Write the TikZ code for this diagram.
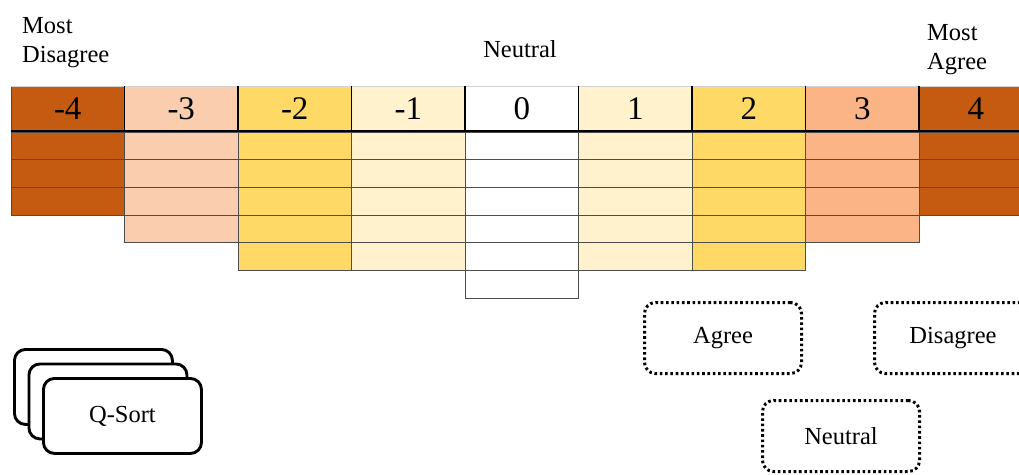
\documentclass[tikz,border=0pt]{standalone}
\usepackage{fontspec}
\setmainfont{Liberation Serif}
\definecolor{cfour}{HTML}{C55A11}
\definecolor{cthreen}{HTML}{FACDAE}
\definecolor{cthreep}{HTML}{FBB486}
\definecolor{ctwo}{HTML}{FFD966}
\definecolor{cone}{HTML}{FFF2CC}
\begin{document}
\begin{tikzpicture}[x=1pt,y=-1pt,
  cell/.style={draw=black!70, line width=0.7pt, minimum width=113.5pt, minimum height=27.67pt, inner sep=0pt, outer sep=0pt, anchor=north west},
  headcell/.style={cell, minimum height=45pt, font=\fontsize{33}{37}\selectfont},
  lbl/.style={font=\fontsize{24.5}{29}\selectfont, align=left, inner sep=0pt},
  card/.style={draw, line width=2.9pt, rounded corners=11pt, fill=white, minimum width=158pt, minimum height=75pt, inner sep=0pt, anchor=north west},
  dotbox/.style={draw, line width=3pt, dash pattern=on 2.6pt off 2.7pt, rounded corners=11pt, minimum width=157pt, minimum height=71pt, inner sep=0pt, anchor=north west, font=\fontsize{24.5}{29}\selectfont}
]
\clip (0,0) rectangle (1019,474);
\useasboundingbox (0,0) rectangle (1019,474);
\foreach \i/\lab/\col/\n in {0/-4/cfour/3,1/-3/cthreen/4,2/-2/ctwo/5,3/-1/cone/5,4/0/white/6,5/1/cone/5,6/2/ctwo/5,7/3/cthreep/4,8/4/cfour/3}{
  \pgfmathsetmacro\xx{11+113.5*\i}
  \node[headcell, fill=\col] (h\i) at (\xx,86) {\lab};
  \foreach \j in {1,...,\n}{
    \pgfmathsetmacro\yy{132+27.667*(\j-1)}
    \node[cell, fill=\col] (r\i-\j) at (\xx,\yy) {};
  }
}
\draw[gray!35, line width=1pt] (h0.north west) -- (h8.north east);
\foreach \i in {0,...,7}{
  \draw[black, line width=1.1pt] (h\i.north east) -- (h\i.south east);
}
\draw[black, line width=1.6pt] (h0.south west) -- (h8.south east);

\node[lbl, anchor=north west] (mdis) at (22,17) {Most\\Disagree};
\node[lbl, anchor=base] (neut) at (520,57) {Neutral};
\node[lbl, anchor=north west] (magr) at (927,24) {Most\\Agree};

\node[card] (q1) at (13,348) {};
\node[card] (q2) at (27.5,362.5) {};
\node[card, font=\fontsize{24.5}{29}\selectfont] (q3) at (42,377) {Q-Sort};

\node[dotbox] (agree) at (643,301) {Agree};
\node[dotbox] (disagree) at (873,301) {Disagree};
\node[dotbox] (neutral) at (761,399) {Neutral};
\end{tikzpicture}
\end{document}
